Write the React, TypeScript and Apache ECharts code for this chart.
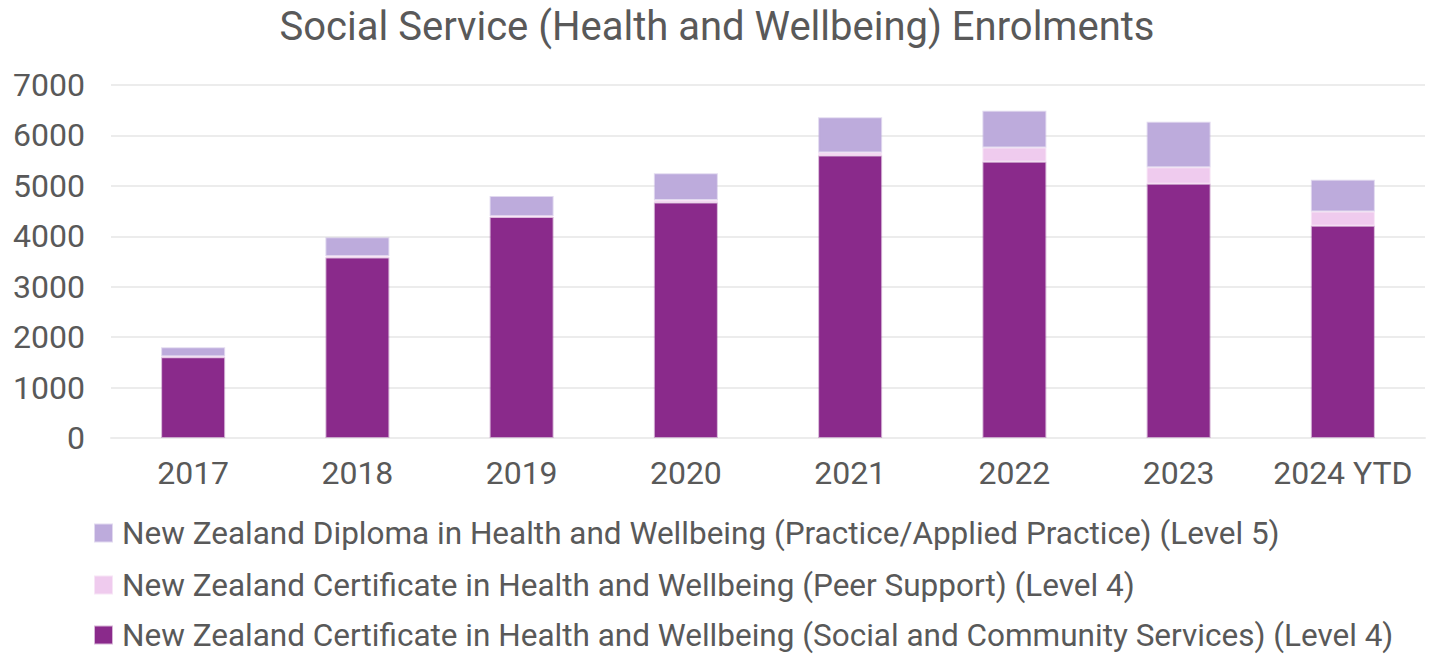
import React, { useEffect, useRef } from "react";
import * as echarts from "echarts";

const categories = ["2017", "2018", "2019", "2020", "2021", "2022", "2023", "2024 YTD"];
const socialCommunity = [1600, 3580, 4380, 4670, 5600, 5480, 5040, 4210];
const peerSupport = [20, 30, 20, 50, 60, 280, 330, 280];
const diploma = [180, 370, 400, 530, 700, 730, 900, 630];
const yTicks = { min: 0, max: 7000, interval: 1000 };

const nameDiploma = "New Zealand Diploma in Health and Wellbeing (Practice/Applied Practice) (Level 5)";
const namePeer = "New Zealand Certificate in Health and Wellbeing (Peer Support) (Level 4)";
const nameSocial = "New Zealand Certificate in Health and Wellbeing (Social and Community Services) (Level 4)";

const FONT = "Roboto";
const TEXT = "#595959";

const legendRow = (name: string, top: number) => ({
  orient: "horizontal",
  left: 94,
  top,
  padding: 0,
  itemWidth: 17,
  itemHeight: 17,
  icon: "rect",
  data: [name],
  textStyle: { fontFamily: FONT, fontSize: 31.5, color: TEXT, lineHeight: 31, padding: [0, 0, 0, 5] },
});

export default function App() {
  const ref = useRef<HTMLDivElement>(null);
  useEffect(() => {
    if (!ref.current) return;
    const chart = echarts.init(ref.current, undefined, { renderer: "svg" });
    chart.setOption({
      animation: false,
      backgroundColor: "#ffffff",
      title: {
        text: "Social Service (Health and Wellbeing) Enrolments",
        left: "center",
        top: 6,
        padding: 0,
        textStyle: { fontFamily: FONT, fontSize: 40, fontWeight: "normal", color: TEXT },
      },
      grid: { left: 111, right: 9, top: 85, bottom: 217, containLabel: false },
      legend: [legendRow(nameDiploma, 517), legendRow(namePeer, 569), legendRow(nameSocial, 619)],
      xAxis: {
        type: "category",
        data: categories,
        axisTick: { show: false },
        axisLine: { lineStyle: { color: "#ececec", width: 2 } },
        axisLabel: { fontFamily: FONT, fontSize: 32, color: TEXT, margin: 19, interval: 0 },
      },
      yAxis: {
        type: "value",
        min: yTicks.min,
        max: yTicks.max,
        interval: yTicks.interval,
        axisLabel: {
          fontFamily: FONT,
          fontSize: 32,
          color: TEXT,
          margin: 26,
          formatter: (v: number) => String(v),
        },
        splitLine: { lineStyle: { color: "#ececec", width: 2 } },
        axisLine: { show: false },
        axisTick: { show: false },
      },
      series: [
        {
          name: nameSocial,
          type: "bar",
          stack: "total",
          data: socialCommunity,
          barWidth: 64,
          itemStyle: { color: "#8a2a8b", borderColor: "rgba(138,42,139,0.35)", borderWidth: 2 },
        },
        {
          name: namePeer,
          type: "bar",
          stack: "total",
          data: peerSupport,
          itemStyle: { color: "#efcbee", borderColor: "rgba(239,203,238,0.5)", borderWidth: 2 },
        },
        {
          name: nameDiploma,
          type: "bar",
          stack: "total",
          data: diploma,
          itemStyle: { color: "#bdabdc", borderColor: "rgba(189,171,220,0.45)", borderWidth: 2 },
        },
      ],
    });
    return () => chart.dispose();
  }, []);
  return <div ref={ref} style={{ width: 1434, height: 655, position: "absolute", left: 0, top: 0 }} />;
}
